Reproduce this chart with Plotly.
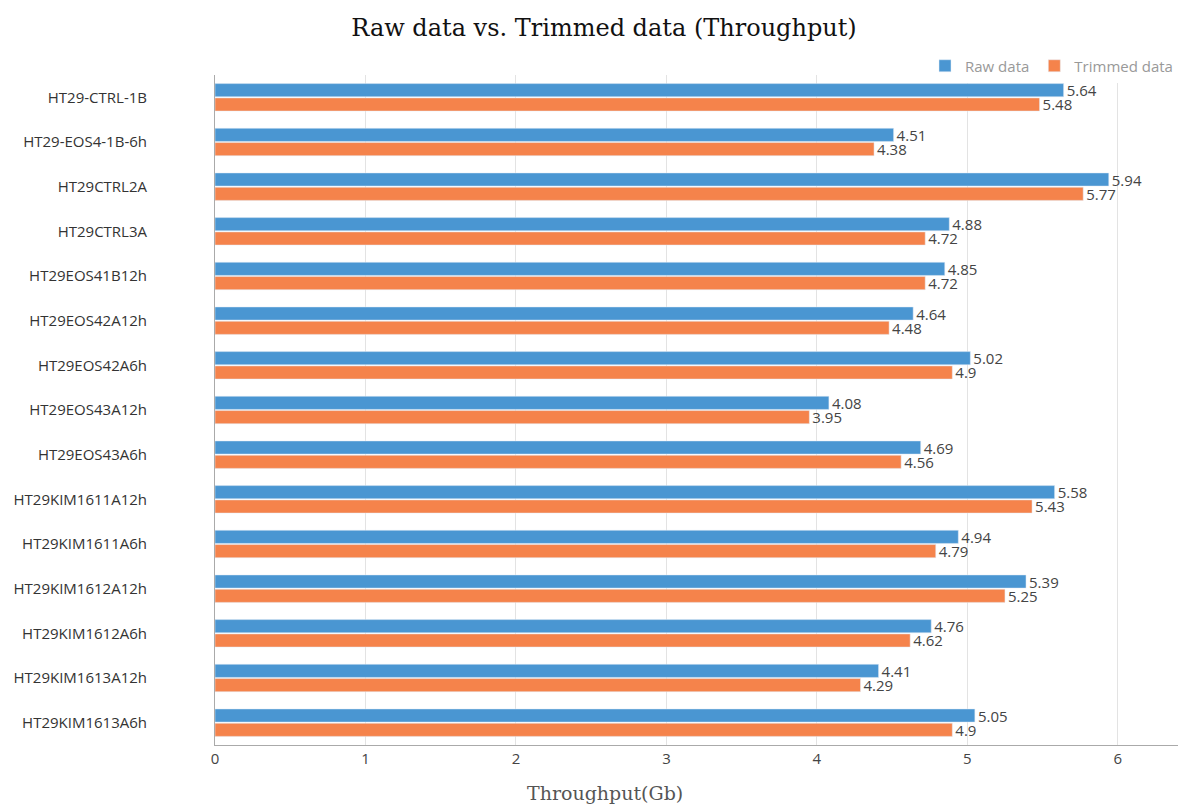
import plotly.graph_objs as go

samples = ['HT29-CTRL-1B', 'HT29-EOS4-1B-6h', 'HT29CTRL2A', 'HT29CTRL3A', 'HT29EOS41B12h',
           'HT29EOS42A12h', 'HT29EOS42A6h', 'HT29EOS43A12h', 'HT29EOS43A6h', 'HT29KIM1611A12h',
           'HT29KIM1611A6h', 'HT29KIM1612A12h', 'HT29KIM1612A6h', 'HT29KIM1613A12h', 'HT29KIM1613A6h']
raw_data = [5.64, 4.51, 5.94, 4.88, 4.85, 4.64, 5.02, 4.08, 4.69, 5.58, 4.94, 5.39, 4.76, 4.41, 5.05]
trimmed_data = [5.48, 4.38, 5.77, 4.72, 4.72, 4.48, 4.9, 3.95, 4.56, 5.43, 4.79, 5.25, 4.62, 4.29, 4.9]

label_font = dict(family='Open Sans', size=15, color='#444444')

trace1 = go.Bar(y=samples, x=raw_data, orientation='h', name='Raw data',
                marker=dict(color='#4a96d2'), text=[str(v) for v in raw_data],
                textposition='outside', textfont=label_font, cliponaxis=False)
trace2 = go.Bar(y=samples, x=trimmed_data, orientation='h', name='Trimmed data',
                marker=dict(color='#f5834b'), text=[str(v) for v in trimmed_data],
                textposition='outside', textfont=label_font, cliponaxis=False)

fig = go.Figure([trace1, trace2])
fig.update_layout(
    width=1178, height=806,
    paper_bgcolor='white', plot_bgcolor='white',
    margin=dict(l=215, r=0, t=75, b=61),
    title=dict(text='Raw data vs. Trimmed data (Throughput)', x=604 / 1178, xanchor='center',
               y=1 - 28 / 806, yanchor='middle',
               font=dict(family='DejaVu Serif', size=24, color='#111111')),
    barmode='group', bargap=0.36, bargroupgap=0.08,
    legend=dict(orientation='h', x=1, xanchor='right', y=1 + 9 / 670, yanchor='middle',
                font=dict(family='Open Sans', size=15, color='#999999'),
                itemclick=False, traceorder='normal'),
    showlegend=True,
    uniformtext=dict(minsize=15, mode='show'),
)
fig.update_xaxes(range=[0, 6.4], dtick=1, showgrid=True, gridcolor='#e3e3e3',
                 showline=True, linecolor='#aaaaaa', linewidth=1, ticks='outside',
                 ticklen=0, zeroline=False,
                 tickfont=dict(family='Open Sans', size=15, color='#444444'))
fig.update_yaxes(autorange='reversed', showline=True, linecolor='#aaaaaa', linewidth=1,
                 showgrid=False, ticks='', ticklabelstandoff=64,
                 tickfont=dict(family='Open Sans', size=15, color='#333333'))

# axis name sits left of the plot centre, as in the original
fig.add_annotation(text='Throughput(Gb)', xref='paper', yref='paper',
                   x=(605 - 215) / 963, y=-(793 - 745) / 670, xanchor='center', yanchor='middle',
                   showarrow=False,
                   font=dict(family='DejaVu Serif', size=19, color='#555555'))

# drop the default page margin so the figure sits at the window origin
fig.write_html('out.html', config={'displayModeBar': False},
               post_script="document.body.style.margin='0';")
